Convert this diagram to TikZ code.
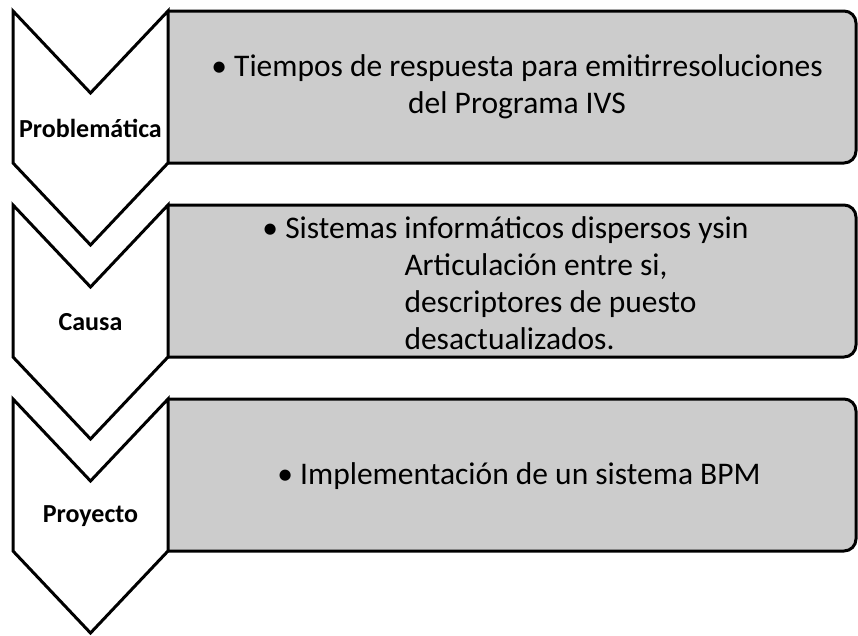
\documentclass[tikz,border=0pt]{standalone}
\usepackage{fontspec}
\setmainfont{Carlito}
\usepackage{xcolor}
\definecolor{panelgray}{HTML}{CCCCCC}

\begin{document}
\begin{tikzpicture}[x=1pt, y=-1pt, line width=3pt, line join=miter,
	chevron/.style={draw, fill=white},
	panel/.style={draw, fill=panelgray, rounded corners=12pt},
	stage/.style={font=\bfseries\fontsize{26}{30}\selectfont, inner sep=0pt},
	bullets/.style={font=\fontsize{31.5}{37}\selectfont, align=center, inner sep=0pt}]
	\useasboundingbox (0,0) rectangle (858,635);
	% panels
	\foreach \top in {11,205,399}
		\draw[panel] (168,\top) -- (856,\top) -- (856,\top+152) -- (168,\top+152);
	% chevrons
	\foreach \top/\name/\word in {11/prob/Problemática, 205/causa/Causa, 399/proy/Proyecto} {
		\draw[chevron] (13,\top) -- (90.5,\top+82) -- (168,\top) -- (168,\top+152)
			-- (90.5,\top+234) -- (13,\top+152) -- cycle;
		\node[stage] (\name) at (90.5,\top+117) {\word};
	}
	% texts
	\node[bullets] (t1) at (517,87) {\textbullet\ Tiempos de respuesta para emitirresoluciones\\del Programa IVS};
	\node[bullets, align=left, anchor=west] (t2) at (403,283) {\llap{\textbullet\ Sistemas }informáticos dispersos ysin\\Articulación entre si,\\descriptores de puesto\\desactualizados.};
	\node[bullets] (t3) at (519,476) {\textbullet\ Implementación de un sistema BPM};
\end{tikzpicture}
\end{document}
